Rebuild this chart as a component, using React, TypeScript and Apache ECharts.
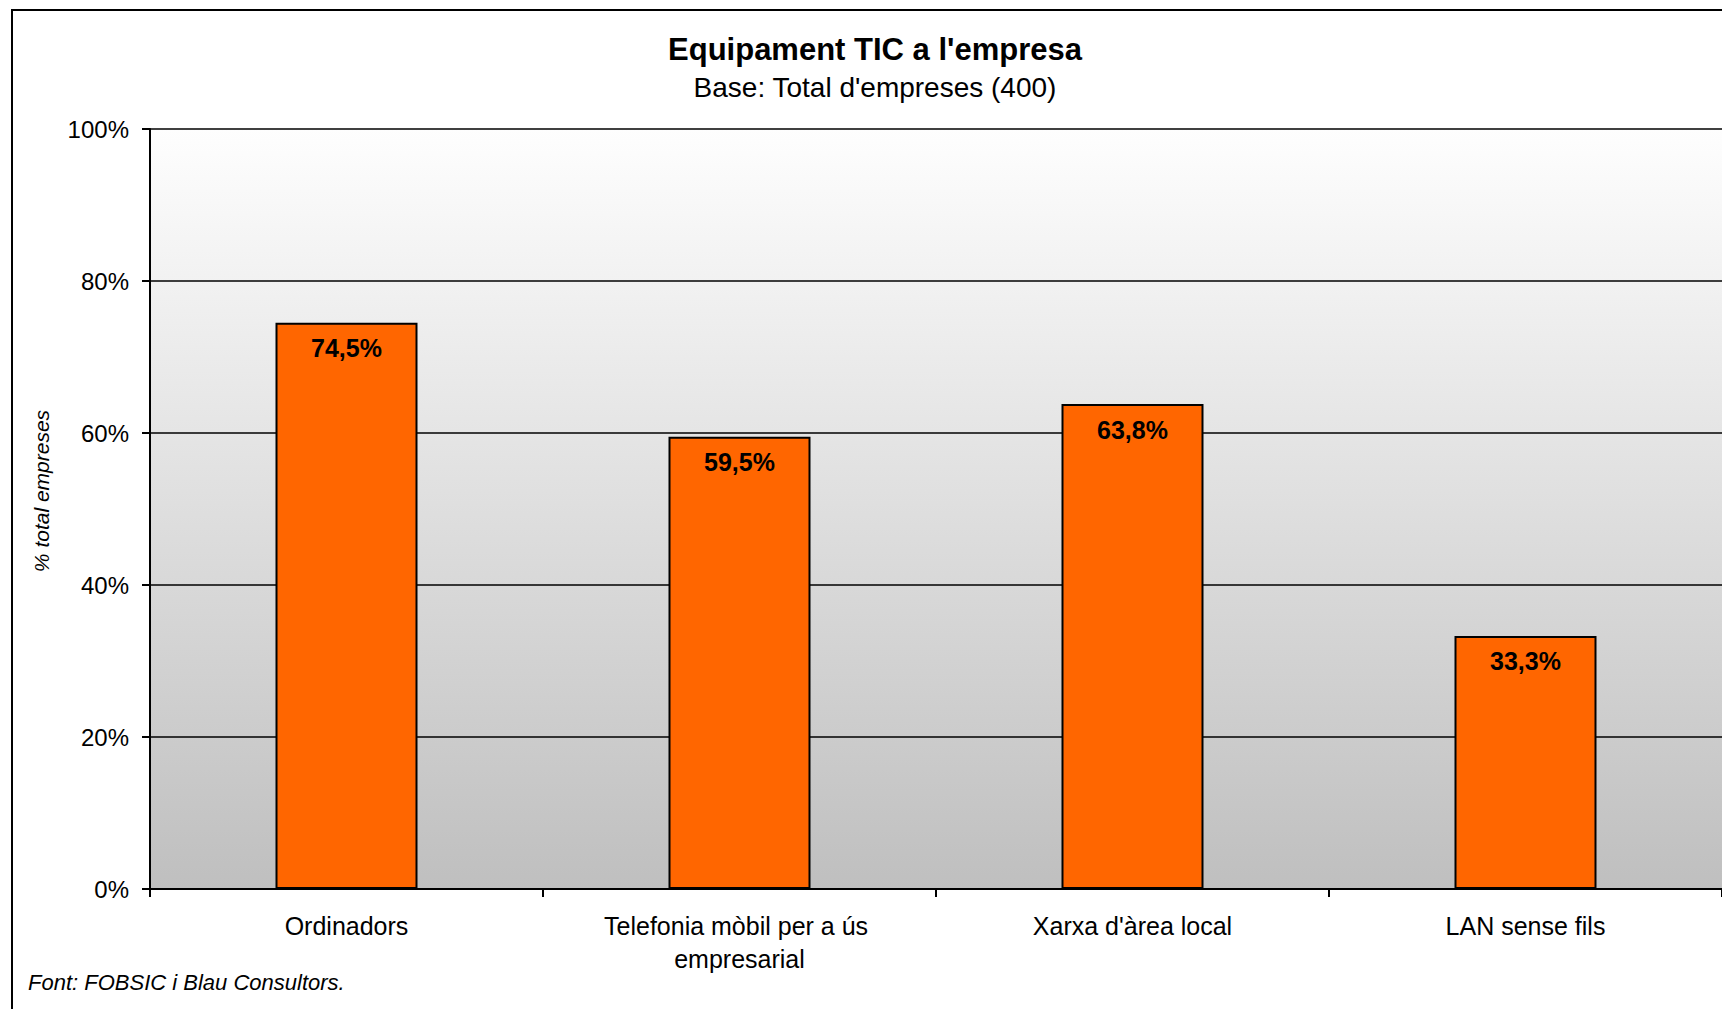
import React, { useEffect, useRef } from "react";
import * as echarts from "echarts";

const categories = [
  "Ordinadors",
  "Telefonia mòbil per a ús empresarial",
  "Xarxa d'àrea local",
  "LAN sense fils",
];
const values = [74.5, 59.5, 63.8, 33.3];
const titleText = "Equipament TIC a l'empresa";
const subtitleText = "Base: Total d'empreses (400)";
const yAxisName = "% total empreses";
const footerText = "Font: FOBSIC i Blau Consultors.";

const FONT = "Arial, 'Liberation Sans', sans-serif";

export default function App() {
  const ref = useRef<HTMLDivElement>(null);
  useEffect(() => {
    if (!ref.current) return;
    const chart = echarts.init(ref.current, null, { renderer: "svg" });
    chart.setOption({
      animation: false,
      backgroundColor: "#ffffff",
      textStyle: { fontFamily: FONT },
      grid: {
        left: 150,
        top: 129,
        right: -14,
        height: 760,
        show: true,
        borderWidth: 0,
        backgroundColor: new echarts.graphic.LinearGradient(0, 0, 0, 1, [
          { offset: 0, color: "#fefefe" },
          { offset: 1, color: "#bfbfbf" },
        ]),
      },
      xAxis: {
        type: "category",
        data: categories,
        axisLine: { show: true, lineStyle: { color: "#000", width: 2 } },
        axisTick: { show: true, length: 8, lineStyle: { color: "#000", width: 2 } },
        axisLabel: {
          interval: 0,
          color: "#000",
          fontFamily: FONT,
          fontSize: 25,
          lineHeight: 33,
          margin: 20,
          width: 310,
          overflow: "break",
        },
      },
      yAxis: {
        type: "value",
        min: 0,
        max: 100,
        interval: 20,
        axisLine: { show: true, lineStyle: { color: "#000", width: 2 } },
        axisTick: { show: true, length: 8, lineStyle: { color: "#000", width: 2 } },
        axisLabel: {
          formatter: "{value}%",
          color: "#000",
          fontFamily: FONT,
          fontSize: 24,
          margin: 21,
        },
        splitLine: { show: true, lineStyle: { color: "#000", width: 1.5 } },
      },
      series: [
        {
          type: "bar",
          data: values,
          barWidth: 142,
          itemStyle: { color: "#ff6600", borderColor: "#000", borderWidth: 2 },
          label: {
            show: true,
            position: "insideTop",
            distance: 13,
            formatter: (p: any) => String(p.value).replace(".", ",") + "%",
            color: "#000",
            fontFamily: FONT,
            fontWeight: "bold",
            fontSize: 25,
          },
        },
      ],
      graphic: [
        {
          type: "rect",
          shape: { x: 12, y: 10, width: 1740, height: 1040 },
          style: { fill: "none", stroke: "#000", lineWidth: 2 },
          z: 100,
        },
        {
          type: "text",
          x: 875,
          y: 49,
          style: {
            text: titleText,
            textAlign: "center",
            textVerticalAlign: "middle",
            font: `bold 31px ${FONT}`,
            fill: "#000",
          },
        },
        {
          type: "text",
          x: 875,
          y: 87,
          style: {
            text: subtitleText,
            textAlign: "center",
            textVerticalAlign: "middle",
            font: `28px ${FONT}`,
            fill: "#000",
          },
        },
        {
          type: "text",
          x: 41,
          y: 491,
          rotation: Math.PI / 2,
          style: {
            text: yAxisName,
            textAlign: "center",
            textVerticalAlign: "middle",
            font: `italic 21px ${FONT}`,
            fill: "#000",
          },
        },
        {
          type: "text",
          x: 28,
          y: 982,
          style: {
            text: footerText,
            textAlign: "left",
            textVerticalAlign: "middle",
            font: `italic 22px ${FONT}`,
            fill: "#000",
          },
        },
      ],
    });
    return () => chart.dispose();
  }, []);
  return (
    <div
      ref={ref}
      style={{ position: "fixed", left: 0, top: 0, width: 1722, height: 1009 }}
    />
  );
}
